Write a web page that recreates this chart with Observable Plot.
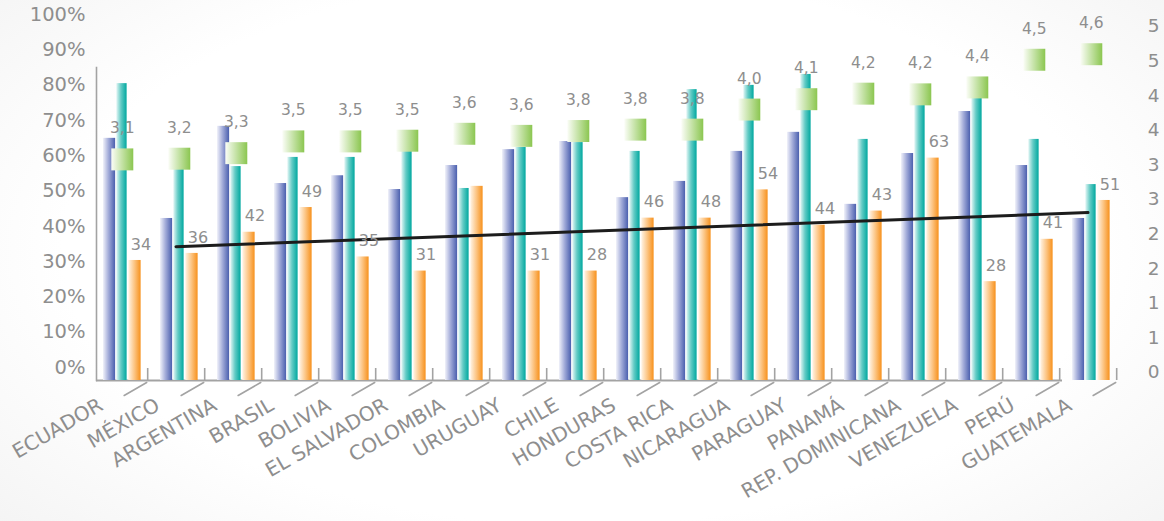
<!DOCTYPE html>
<html>
<head>
<meta charset="utf-8">
<script src="https://cdn.jsdelivr.net/npm/d3@7"></script>
<script src="https://cdn.jsdelivr.net/npm/@observablehq/plot@0.6"></script>
<style>
  html, body { margin: 0; padding: 0; }
  body {
    width: 1164px; height: 521px; overflow: hidden;
    background: radial-gradient(ellipse 72% 85% at 50% 48%, #ffffff 62%, #f2f2f2 100%);
    font-family: "DejaVu Sans", sans-serif;
  }
</style>
</head>
<body>
<div id="chart"></div>
<script>
// ---- data ----
const countries = ["ECUADOR","MÉXICO","ARGENTINA","BRASIL","BOLIVIA","EL SALVADOR","COLOMBIA","URUGUAY","CHILE","HONDURAS","COSTA RICA","NICARAGUA","PARAGUAY","PANAMÁ","REP. DOMINICANA","VENEZUELA","PERÚ","GUATEMALA"];
const blueValues   = [68.6,45.9,72.0,55.8,58.0,54.1,60.9,65.4,67.7,51.8,56.4,64.9,70.3,49.9,64.3,76.2,60.9,45.9];
const tealValues   = [84.1,60.0,60.6,63.2,63.2,65.0,54.4,66.0,67.4,64.9,82.4,83.6,86.7,68.3,77.9,79.9,68.3,55.5];
const orangeValues = [34,36,42,49,35,31,55,31,31,46,46,54,44,48,63,28,40,51];
const orangeLabels = ["34","36","42","49","35","31","","31","28","46","48","54","44","43","63","28","41","51"];
const squareValues = [3.08,3.09,3.17,3.34,3.34,3.35,3.45,3.42,3.49,3.51,3.51,3.80,3.95,4.03,4.02,4.12,4.52,4.60];
const squareLabels = ["3,1","3,2","3,3","3,5","3,5","3,5","3,6","3,6","3,8","3,8","3,8","4,0","4,1","4,2","4,2","4,4","4,5","4,6"];
const leftTicks = [0,10,20,30,40,50,60,70,80,90,100];
const leftTickLabels = ["0%","10%","20%","30%","40%","50%","60%","70%","80%","90%","100%"];
const rightTicks = [0,0.5,1,1.5,2,2.5,3,3.5,4,4.5,5];
const rightTickLabels = ["0","1","1","2","2","3","3","4","4","5","5"];

// ---- derived table ----
const data = countries.map((c, i) => ({
  c, blue: blueValues[i], teal: tealValues[i], orange: orangeValues[i],
  oLabel: orangeLabels[i], sq: squareValues[i], sqLabel: squareLabels[i]
}));

// secondary (right) axis mapped into the primary y domain
const rBase = 2.27, rK = 19.6;
const toY = r => rBase + r * rK;

// linear trend of the orange series
const idx = d3.range(orangeValues.length);
const mx = d3.mean(idx), my = d3.mean(orangeValues);
const slope = d3.sum(idx, i => (i - mx) * (orangeValues[i] - my)) / d3.sum(idx, i => (i - mx) ** 2);
const icpt = my - slope * mx;
const trend = [1, countries.length - 1].map(i => ({c: countries[i], v: icpt + slope * i}));

const W = 1164, H = 521, ML = 86.4, MR = 44.8;
const bw = (W - ML - MR) / countries.length;
const gray = "#8e8e8e", axisGray = "#a3a3a3";
const lineShape = {draw(ctx, l) { ctx.moveTo(0, 0); ctx.lineTo(0, -l); }};

function build(shape) {
  return Plot.plot({
    width: W, height: H,
    marginLeft: ML, marginRight: MR, marginTop: 27, marginBottom: 141,
    x: {domain: countries, padding: 0, axis: null},
    y: {domain: [0, 100], axis: null},
    style: {background: "transparent", fontFamily: "DejaVu Sans, sans-serif", color: gray, overflow: "visible"},
    marks: [
      Plot.frame({anchor: "left", insetLeft: 9.6, insetTop: 40, stroke: axisGray, strokeWidth: 1.6}),
      Plot.ruleY([0], {insetLeft: 9.6, insetRight: 57.2, stroke: axisGray, strokeWidth: 2}),
      Plot.ruleX(countries, {x: d => d, dx: bw / 2, insetTop: 341, stroke: axisGray, strokeWidth: 1.6}),
      Plot.vector(countries, {x: d => d, y: 0, dx: bw / 2 - 1, dy: 2, length: 26, rotate: 240,
        anchor: "start", shape, stroke: axisGray, fill: "none", strokeWidth: 1.6}),
      Plot.barY(data, {x: "c", y: "blue", insetLeft: 13, insetRight: bw - 25.5, fill: "url(#gBlue)"}),
      Plot.barY(data, {x: "c", y: "teal", insetLeft: 26.3, insetRight: bw - 37, fill: "url(#gTeal)"}),
      Plot.barY(data, {x: "c", y: "orange", insetLeft: 38.3, insetRight: bw - 51, fill: "url(#gOrange)"}),
      Plot.line(trend, {x: "c", y: "v", stroke: "#1c1c1c", strokeWidth: 3}),
      Plot.dot(data, {x: "c", y: d => toY(d.sq), dx: 3.3, symbol: "square", r: 12.4, fill: "url(#gGreen)", stroke: "none"}),
      Plot.text(data, {x: "c", y: d => toY(d.sq), dx: 3.3, dy: -31, text: "sqLabel", fontSize: 15.5, fill: gray}),
      Plot.text(data.filter(d => d.oLabel), {x: "c", y: "orange", dx: 22, dy: -16, text: "oLabel", fontSize: 16, fill: gray}),
      Plot.text(countries, {x: d => d, y: 0, dx: -18, dy: 23, rotate: -30, textAnchor: "end",
        text: d => d, fontSize: 20, fill: gray}),
      Plot.text(leftTicks, {frameAnchor: "left", y: d => d, dx: -1.4, dy: -13, textAnchor: "end",
        text: (d, i) => leftTickLabels[i], fontSize: 19.5, fill: gray}),
      Plot.text(rightTicks, {frameAnchor: "right", y: d => toY(d), dx: 34, textAnchor: "middle",
        text: (d, i) => rightTickLabels[i], fontSize: 18.5, fill: gray})
    ]
  });
}

let chart;
try { chart = build(lineShape); } catch (e) { chart = build("spike"); }

// gradient definitions
const defs = d3.select(chart).insert("defs", ":first-child");
const grads = {
  gBlue:   [[0, "#f1f2fa"], [0.45, "#a3acd9"], [1, "#4a5fae"]],
  gTeal:   [[0, "#e3f6f5"], [0.45, "#63cbc5"], [1, "#00a89f"]],
  gOrange: [[0, "#fff4e6"], [0.5, "#fcc482"], [1, "#f7911c"]],
  gGreen:  [[0, "#fbfdf7"], [1, "#8bc650"]]
};
for (const [id, stops] of Object.entries(grads)) {
  const g = defs.append("linearGradient").attr("id", id).attr("x1", 0).attr("x2", 1).attr("y1", 0).attr("y2", 0);
  for (const [o, c] of stops) g.append("stop").attr("offset", o).attr("stop-color", c);
}

// flatten the rotated labels Plot placed: absolute x/y with rotate(angle x y) on the text itself
const svgNS = "http://www.w3.org/2000/svg";
const moves = [];
d3.select(chart).selectAll("text").each(function() {
  const tf = this.getAttribute("transform");
  const m = tf && tf.match(/translate\(([-\d.e]+),\s*([-\d.e]+)\)\s*rotate\(([-\d.e]+)\)/);
  if (!m) return;
  const g = this.parentNode;
  const gm = (g.getAttribute("transform") || "").match(/translate\(([-\d.e]+),\s*([-\d.e]+)\)/);
  const ox = gm ? +gm[1] : 0, oy = gm ? +gm[2] : 0;
  moves.push({el: this, g, x: +m[1] + ox, y: +m[2] + oy, a: +m[3]});
});
for (const {el, g, x, y, a} of moves) {
  const fs = parseFloat(g.getAttribute("font-size")) || 20;
  const rad = a * Math.PI / 180, off = 0.32 * fs;
  const px = x - off * Math.sin(rad), py = y + off * Math.cos(rad);
  const t = document.createElementNS(svgNS, "text");
  t.setAttribute("x", px.toFixed(2));
  t.setAttribute("y", py.toFixed(2));
  t.setAttribute("transform", `rotate(${a} ${px.toFixed(2)} ${py.toFixed(2)})`);
  t.setAttribute("font-size", fs);
  t.setAttribute("text-anchor", "end");
  t.setAttribute("fill", gray);
  t.setAttribute("font-family", "DejaVu Sans, sans-serif");
  t.textContent = el.textContent;
  chart.appendChild(t);
  el.remove();
}
chart.removeAttribute("viewBox");
chart.setAttribute("width", W);
chart.setAttribute("height", H);
chart.style.maxWidth = "none";
document.getElementById("chart").appendChild(chart);
</script>
</body>
</html>
